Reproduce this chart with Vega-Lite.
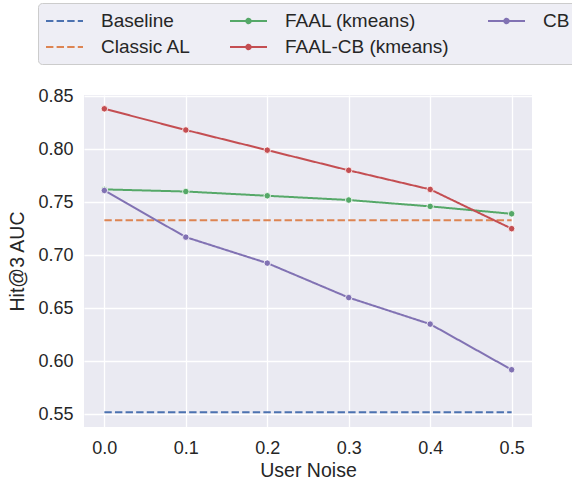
{
  "$schema": "https://vega.github.io/schema/vega-lite/v6.json",
  "autosize": {"type": "none"},
  "width": 448,
  "height": 332,
  "padding": {"left": 84, "top": 95, "right": 40, "bottom": 55},
  "background": "white",
  "data": {
    "values": [
      {"series": "Baseline", "noise": 0.0, "value": 0.552},
      {"series": "Baseline", "noise": 0.1, "value": 0.552},
      {"series": "Baseline", "noise": 0.2, "value": 0.552},
      {"series": "Baseline", "noise": 0.3, "value": 0.552},
      {"series": "Baseline", "noise": 0.4, "value": 0.552},
      {"series": "Baseline", "noise": 0.5, "value": 0.552},
      {"series": "Classic AL", "noise": 0.0, "value": 0.733},
      {"series": "Classic AL", "noise": 0.1, "value": 0.733},
      {"series": "Classic AL", "noise": 0.2, "value": 0.733},
      {"series": "Classic AL", "noise": 0.3, "value": 0.733},
      {"series": "Classic AL", "noise": 0.4, "value": 0.733},
      {"series": "Classic AL", "noise": 0.5, "value": 0.733},
      {"series": "FAAL (kmeans)", "noise": 0.0, "value": 0.762},
      {"series": "FAAL (kmeans)", "noise": 0.1, "value": 0.760},
      {"series": "FAAL (kmeans)", "noise": 0.2, "value": 0.756},
      {"series": "FAAL (kmeans)", "noise": 0.3, "value": 0.752},
      {"series": "FAAL (kmeans)", "noise": 0.4, "value": 0.746},
      {"series": "FAAL (kmeans)", "noise": 0.5, "value": 0.739},
      {"series": "FAAL-CB (kmeans)", "noise": 0.0, "value": 0.838},
      {"series": "FAAL-CB (kmeans)", "noise": 0.1, "value": 0.818},
      {"series": "FAAL-CB (kmeans)", "noise": 0.2, "value": 0.799},
      {"series": "FAAL-CB (kmeans)", "noise": 0.3, "value": 0.780},
      {"series": "FAAL-CB (kmeans)", "noise": 0.4, "value": 0.762},
      {"series": "FAAL-CB (kmeans)", "noise": 0.5, "value": 0.725},
      {"series": "CB", "noise": 0.0, "value": 0.761},
      {"series": "CB", "noise": 0.1, "value": 0.717},
      {"series": "CB", "noise": 0.2, "value": 0.6925},
      {"series": "CB", "noise": 0.3, "value": 0.660},
      {"series": "CB", "noise": 0.4, "value": 0.635},
      {"series": "CB", "noise": 0.5, "value": 0.592}
    ]
  },
  "encoding": {
    "x": {
      "field": "noise", "type": "quantitative",
      "scale": {"domain": [-0.025, 0.525], "nice": false, "zero": false},
      "axis": {"title": "User Noise", "values": [0, 0.1, 0.2, 0.3, 0.4, 0.5], "format": ".1f", "labelPadding": 12, "titlePadding": 4}
    },
    "y": {
      "field": "value", "type": "quantitative",
      "scale": {"domain": [0.538, 0.851], "nice": false, "zero": false},
      "axis": {"title": "Hit@3 AUC", "values": [0.55, 0.6, 0.65, 0.7, 0.75, 0.8, 0.85], "format": ".2f", "labelPadding": 11, "titlePadding": 10}
    },
    "color": {
      "field": "series", "type": "nominal",
      "scale": {
        "domain": ["Baseline", "FAAL (kmeans)", "CB", "Classic AL", "FAAL-CB (kmeans)"],
        "range": ["#4c72b0", "#55a868", "#8172b3", "#dd8452", "#c44e52"]
      },
      "legend": {
        "title": null,
        "orient": "none",
        "legendX": -46,
        "legendY": -92,
        "direction": "horizontal",
        "columns": 3,
        "columnPadding": 35,
        "rowPadding": 5,
        "padding": 7,
        "symbolSize": 400,
        "labelOffset": 34,
        "labelLimit": 400,
        "labelFontSize": 19,
        "labelFont": "Liberation Sans",
        "labelColor": "#262626",
        "fillColor": "#eeeef5",
        "strokeColor": "#cccccc",
        "cornerRadius": 4,
        "encode": {
          "symbols": {
            "update": {
              "shape": {"signal": "indexof(['Baseline','Classic AL'], datum.value) >= 0 ? 'M-1,0H2.7' : 'M-1,0H2.7M0.63,0A0.22,0.22,0,1,1,1.07,0A0.22,0.22,0,1,1,0.63,0Z'"},
              "fill": {"scale": "color", "field": "value"},
              "stroke": {"scale": "color", "field": "value"},
              "strokeDash": {"signal": "indexof(['Baseline','Classic AL'], datum.value) >= 0 ? [7.4, 3.2] : [1, 0]"},
              "strokeWidth": {"value": 2},
              "opacity": {"value": 1}
            }
          }
        }
      }
    }
  },
  "layer": [
    {
      "mark": {"type": "line", "strokeWidth": 2},
      "encoding": {
        "strokeDash": {
          "field": "series", "type": "nominal",
          "scale": {
            "domain": ["Baseline", "FAAL (kmeans)", "CB", "Classic AL", "FAAL-CB (kmeans)"],
            "range": [[7.4, 3.2], [1, 0], [1, 0], [7.4, 3.2], [1, 0]]
          },
          "legend": null
        }
      }
    },
    {
      "transform": [{"filter": "datum.series != 'Baseline' && datum.series != 'Classic AL'"}],
      "mark": {"type": "point", "filled": true, "size": 42, "opacity": 1, "stroke": "white", "strokeWidth": 0.8},
      "encoding": {}
    }
  ],
  "config": {
    "view": {"fill": "#eaeaf2", "stroke": null},
    "font": "Liberation Sans",
    "axis": {
      "grid": true,
      "gridColor": "white",
      "gridWidth": 1.3,
      "domain": false,
      "ticks": false,
      "labelFont": "Liberation Sans",
      "labelFontSize": 18,
      "labelColor": "#262626",
      "titleFont": "Liberation Sans",
      "titleFontSize": 19.5,
      "titleFontWeight": "normal",
      "titleColor": "#262626"
    }
  }
}
